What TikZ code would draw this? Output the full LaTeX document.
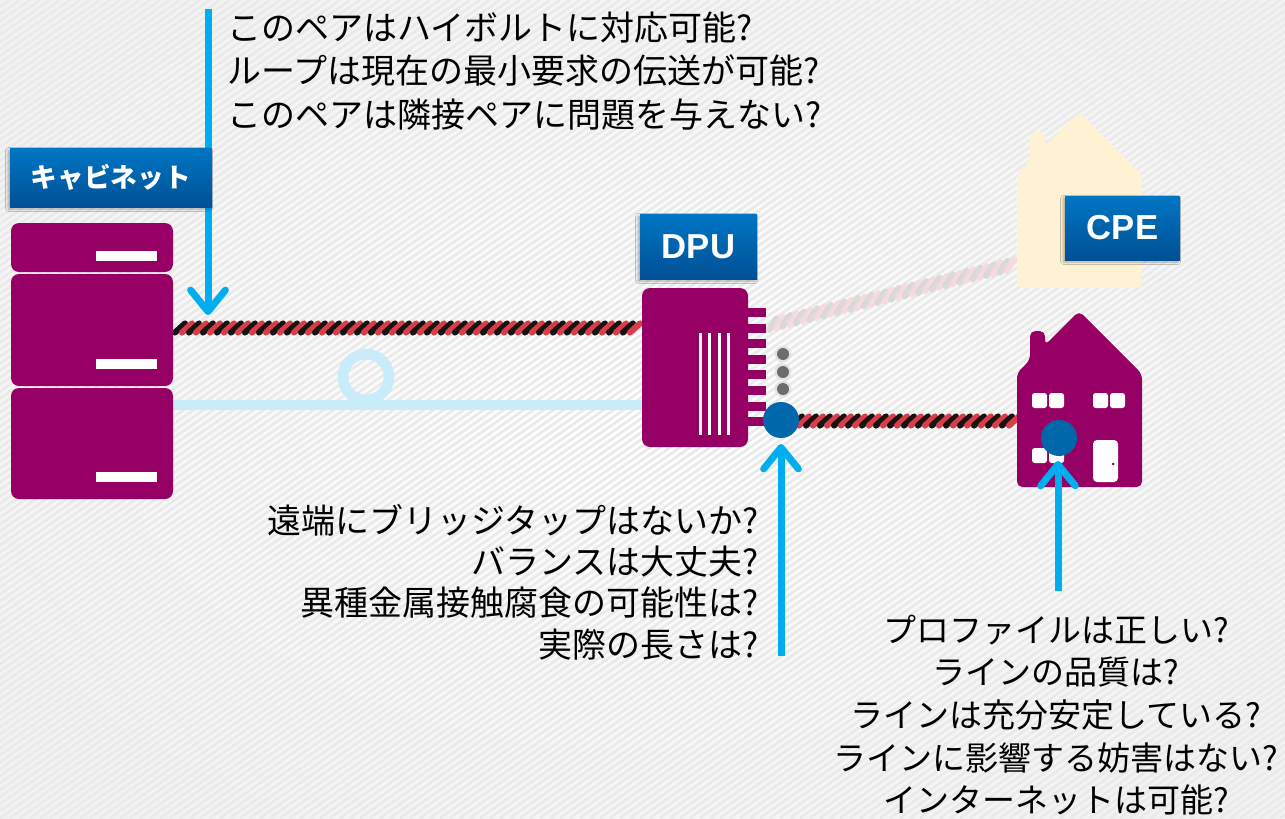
\documentclass[tikz,border=0pt]{standalone}
\usepackage{fontspec}
\newfontfamily\jpfont{Noto Sans CJK JP}
\newfontfamily\tagfont{Liberation Sans}
\usetikzlibrary{arrows.meta,shadows.blur}

\definecolor{plum}{RGB}{150,0,100}
\definecolor{skyarrow}{RGB}{0,174,239}
\definecolor{fiberblue}{RGB}{202,236,250}
\definecolor{portblue}{RGB}{0,104,170}
\definecolor{cream}{RGB}{255,242,212}
\definecolor{wirered}{RGB}{214,62,74}
\definecolor{tagtop}{RGB}{0,118,196}
\definecolor{tagbottom}{RGB}{0,80,148}
\definecolor{stripegray}{RGB}{234,234,234}

% twisted pair: alternating dark and red strokes along a horizontal run
\newcommand{\wirepair}[5]{%
  \pgfmathtruncatemacro{\wireN}{(#2-#1)/14-1}%
  \foreach \k in {0,...,\wireN}{%
    \draw[#4] ({#1+\k*14+2},{#3+4.5}) -- ({#1+\k*14+12},{#3-4.5});
    \draw[#5] ({#1+\k*14+9},{#3+4.5}) -- ({#1+\k*14+19},{#3-4.5});
  }}

\begin{document}
\begin{tikzpicture}[x=0.75pt,y=-0.75pt,
  stripe/.style={draw=stripegray, line width=2pt},
  strand dark/.style={draw=black!92, line width=4.6pt, line cap=round},
  strand red/.style={draw=wirered, line width=4.6pt, line cap=round},
  strand pale/.style={draw=gray!32, line width=5pt, line cap=round, opacity=0.85},
  strand pink/.style={draw=wirered!20, line width=5pt, line cap=round, opacity=0.85},
  fiber/.style={draw=fiberblue, line width=8pt},
  probe/.style={draw=skyarrow, line width=5.25pt,
    -{Straight Barb[length=16pt,width=26pt,round]}},
  tagbox/.style={rectangle, top color=tagtop, bottom color=tagbottom,
    text=white, inner sep=0pt,
    blur shadow={shadow xshift=-1.5pt, shadow yshift=-1.5pt, shadow opacity=30,
      shadow blur steps=6}},
  qtext/.style={inner sep=0pt, text=black},
  unit/.style={fill=plum, rounded corners=6pt},
  slot/.style={fill=white},
  window/.style={fill=white, rounded corners=2pt}]

\useasboundingbox (0,0) rectangle (1285,818);

% background with soft vignette and diagonal texture
\shade[inner color=white, outer color=gray!10] (-150,-100) rectangle (1435,918);
\begin{scope}
  \clip (0,0) rectangle (1285,818);
  \foreach \s in {0,10,...,2460} \draw[stripe] (\s,0) -- (\s-1170,818);
\end{scope}

% copper pairs
\wirepair{173}{645}{328}{strand dark}{strand red}
\wirepair{790}{1018}{421}{strand dark}{strand red}
\begin{scope}[shift={(766,326)}, rotate=14]
  \wirepair{0}{258}{0}{strand pale}{strand pink}
\end{scope}

% fibre with a slack loop
\coordinate (fibA) at (173,405);
\coordinate (fibB) at (646,405);
\draw[fiber] (fibA) -- (fibB);
\draw[fiber] (366,377) circle (23);

% probe arrow towards the cabinet pair
\coordinate (a1s) at (208,9);
\coordinate (a1e) at (208,315);
\draw[probe] (a1s) -- (a1e);

% cabinet
\fill[unit] (11,223) rectangle (173,272);
\fill[unit] (11,274) rectangle (173,386);
\fill[unit] (11,388) rectangle (173,499);
\fill[slot] (96,251) rectangle (157,261);
\fill[slot] (96,359) rectangle (157,369);
\fill[slot] (96,472) rectangle (157,482);

% labels
\node[tagbox, minimum width=151.5pt, minimum height=44.25pt,
  font=\jpfont\bfseries\fontsize{20pt}{22pt}\selectfont] (cabtag) at (111,177.5) {キャビネット};
\node[tagbox, minimum width=87.75pt, minimum height=48.75pt,
  font=\tagfont\bfseries\fontsize{26pt}{28pt}\selectfont] (dputag) at (698.5,246.5) {DPU};

% DPU
\fill[unit] (642,288) rectangle (748,447);
\foreach \t in {0,...,7} \fill[plum] (744,{308+\t*15.6}) rectangle (766,{317+\t*15.6});
\foreach \v in {700,709.5,719,728.5} \fill[white] (\v-1.5,333) rectangle (\v+1.5,435);
\foreach \d in {354,372,389} {
  \fill[gray!30, opacity=0.6] (783,\d) circle (8.5);
  \fill[gray!85!black] (783,\d) circle (6);
}

% customer premises: faded outline above, house below
\begin{scope}[shift={(0,-199)}]
  \fill[cream, rounded corners=4pt] (1017,487) -- (1017,373) -- (1030,360) -- (1030,331)
    -- (1045,331) -- (1045,345) -- (1079,311) -- (1142,374) -- (1142,487) -- cycle;
\end{scope}
\node[tagbox, minimum width=86.25pt, minimum height=48pt,
  font=\tagfont\bfseries\fontsize{26pt}{28pt}\selectfont] (cpetag) at (1122.5,228) {CPE};

\fill[plum, rounded corners=4pt] (1017,487) -- (1017,373) -- (1030,360) -- (1030,331)
  -- (1045,331) -- (1045,345) -- (1079,311) -- (1142,374) -- (1142,487) -- cycle;
\fill[window] (1032,393) rectangle (1047,408);
\fill[window] (1049,393) rectangle (1064,408);
\fill[window] (1093,393) rectangle (1108,408);
\fill[window] (1110,393) rectangle (1125,408);
\fill[window] (1032,448) rectangle (1047,463);
\fill[window] (1049,448) rectangle (1064,463);
\fill[white, rounded corners=3pt] (1093,440) rectangle (1118,482);
\fill[plum] (1113,464) circle (1.5);

% test points
\fill[portblue] (781,420) circle (18);
\fill[portblue] (1059,438) circle (18);

% probe arrows from below
\coordinate (a2s) at (781,656);
\coordinate (a2e) at (781,444);
\draw[probe] (a2s) -- (a2e);
\coordinate (a3s) at (1058,591);
\coordinate (a3e) at (1058,461);
\draw[probe] (a3s) -- (a3e);

% questions
\node[qtext, anchor=west, align=left,
  font=\jpfont\fontsize{25.5pt}{32.5pt}\selectfont] (qpair) at (227,71)
  {このペアはハイボルトに対応可能?\\ループは現在の最小要求の伝送が可能?\\このペアは隣接ペアに問題を与えない?};
\node[qtext, anchor=east, align=right,
  font=\jpfont\fontsize{25.5pt}{31pt}\selectfont] (qdrop) at (759,582)
  {遠端にブリッジタップはないか?\\バランスは大丈夫?\\異種金属接触腐食の可能性は?\\実際の長さは?};
\node[qtext, align=center,
  font=\jpfont\fontsize{24.75pt}{32pt}\selectfont] (qline) at (1056,715)
  {プロファイルは正しい?\\ラインの品質は?\\ラインは充分安定している?\\ラインに影響する妨害はない?\\インターネットは可能?};
\end{tikzpicture}
\end{document}
